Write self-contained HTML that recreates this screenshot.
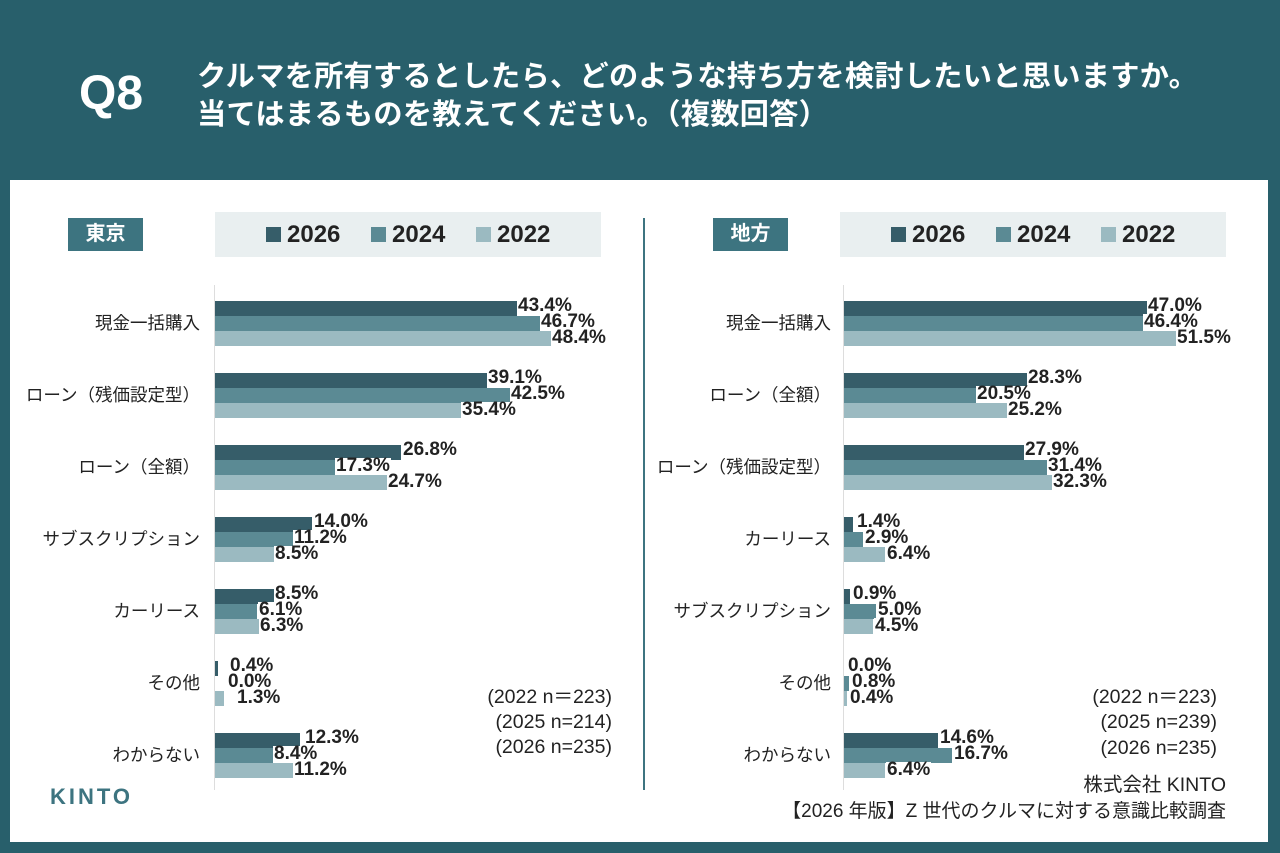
<!DOCTYPE html>
<html><head><meta charset="utf-8"><style>
*{margin:0;padding:0;box-sizing:border-box}
body{width:1280px;height:853px;background:#285f6b;position:relative;overflow:hidden;font-family:"Liberation Sans","Noto Sans CJK JP",sans-serif;color:#222}
.a{position:absolute;white-space:nowrap}
.panel{position:absolute;left:10px;top:180px;width:1258px;height:662px;background:#fff}
.q{left:79px;top:66px;font-size:48px;font-weight:bold;color:#fff}
.t{left:197px;font-size:29.2px;font-weight:bold;color:#fff;letter-spacing:0.3px}
.tag{background:#3d7480;color:#fff;font-weight:bold;font-size:20px;text-align:center;line-height:33px;height:33px;width:75px}
.leg{background:#e9eff0;height:45px;width:386px;top:212px}
.sq{position:absolute;width:15px;height:15px;top:227px}
.lt{position:absolute;top:221px;font-size:24px;font-weight:bold;line-height:28px}
.b{position:absolute;height:15px}
.c1{background:#365d69}.c2{background:#5b8a94}.c3{background:#9bbac1}
.v{position:absolute;font-size:19px;font-weight:bold;line-height:16px;background:#fff;padding:0 1px;white-space:nowrap}
.cat{position:absolute;font-size:17.5px;line-height:22px;text-align:right;width:200px;white-space:nowrap}
.n{position:absolute;font-size:19.5px;line-height:22px;text-align:right;width:200px;white-space:nowrap}
.ax{position:absolute;width:1px;background:#ddd;top:285px;height:505px}
</style></head><body>
<div class="a q">Q8</div>
<div class="a t" style="top:53px">クルマを所有するとしたら、どのような持ち方を検討したいと思いますか。</div>
<div class="a t" style="top:91px">当てはまるものを教えてください。（複数回答）</div>
<div class="panel"></div>
<div class="a" style="left:643px;top:218px;width:2px;height:572px;background:#3d7480"></div>

<div class="a tag" style="left:68px;top:218px">東京</div>
<div class="a leg" style="left:215px"></div>
<div class="sq c1" style="left:266px"></div><div class="lt" style="left:287px">2026</div>
<div class="sq c2" style="left:371px"></div><div class="lt" style="left:392px">2024</div>
<div class="sq c3" style="left:476px"></div><div class="lt" style="left:497px">2022</div>

<div class="a tag" style="left:713px;top:218px">地方</div>
<div class="a leg" style="left:840px"></div>
<div class="sq c1" style="left:891px"></div><div class="lt" style="left:912px">2026</div>
<div class="sq c2" style="left:996px"></div><div class="lt" style="left:1017px">2024</div>
<div class="sq c3" style="left:1101px"></div><div class="lt" style="left:1122px">2022</div>

<div class="ax" style="left:214px"></div>
<div class="ax" style="left:843px"></div>

<!-- LEFT -->
<div class="cat" style="left:0;top:312px">現金一括購入</div>
<div class="b c1" style="left:215px;top:301px;width:302px"></div><div class="v" style="left:517px;top:298px">43.4%</div>
<div class="b c2" style="left:215px;top:316px;width:325px"></div><div class="v" style="left:540px;top:314px">46.7%</div>
<div class="b c3" style="left:215px;top:331px;width:336px"></div><div class="v" style="left:551px;top:330px">48.4%</div>

<div class="cat" style="left:0;top:384px">ローン（残価設定型）</div>
<div class="b c1" style="left:215px;top:373px;width:272px"></div><div class="v" style="left:487px;top:370px">39.1%</div>
<div class="b c2" style="left:215px;top:388px;width:295px"></div><div class="v" style="left:510px;top:386px">42.5%</div>
<div class="b c3" style="left:215px;top:403px;width:246px"></div><div class="v" style="left:461px;top:402px">35.4%</div>

<div class="cat" style="left:0;top:456px">ローン（全額）</div>
<div class="b c1" style="left:215px;top:445px;width:186px"></div><div class="v" style="left:402px;top:442px">26.8%</div>
<div class="b c2" style="left:215px;top:460px;width:120px"></div><div class="v" style="left:335px;top:458px">17.3%</div>
<div class="b c3" style="left:215px;top:475px;width:172px"></div><div class="v" style="left:387px;top:474px">24.7%</div>

<div class="cat" style="left:0;top:528px">サブスクリプション</div>
<div class="b c1" style="left:215px;top:517px;width:97px"></div><div class="v" style="left:313px;top:514px">14.0%</div>
<div class="b c2" style="left:215px;top:532px;width:78px"></div><div class="v" style="left:293px;top:530px">11.2%</div>
<div class="b c3" style="left:215px;top:547px;width:59px"></div><div class="v" style="left:274px;top:546px">8.5%</div>

<div class="cat" style="left:0;top:600px">カーリース</div>
<div class="b c1" style="left:215px;top:589px;width:59px"></div><div class="v" style="left:274px;top:586px">8.5%</div>
<div class="b c2" style="left:215px;top:604px;width:42px"></div><div class="v" style="left:258px;top:602px">6.1%</div>
<div class="b c3" style="left:215px;top:619px;width:44px"></div><div class="v" style="left:259px;top:618px">6.3%</div>

<div class="cat" style="left:0;top:672px">その他</div>
<div class="b c1" style="left:215px;top:661px;width:3px"></div><div class="v" style="left:229px;top:658px">0.4%</div>
<div class="v" style="left:227px;top:674px">0.0%</div>
<div class="b c3" style="left:215px;top:691px;width:9px"></div><div class="v" style="left:236px;top:690px">1.3%</div>

<div class="cat" style="left:0;top:744px">わからない</div>
<div class="b c1" style="left:215px;top:733px;width:85px"></div><div class="v" style="left:304px;top:730px">12.3%</div>
<div class="b c2" style="left:215px;top:748px;width:58px"></div><div class="v" style="left:273px;top:746px">8.4%</div>
<div class="b c3" style="left:215px;top:763px;width:78px"></div><div class="v" style="left:293px;top:762px">11.2%</div>

<div class="n" style="left:412px;top:686px">(2022 n＝223)</div>
<div class="n" style="left:412px;top:711px">(2025 n=214)</div>
<div class="n" style="left:412px;top:736px">(2026 n=235)</div>
<div class="a" style="left:50px;top:784px;font-size:22px;font-weight:bold;color:#3d7480;letter-spacing:3px">KINTO</div>

<!-- RIGHT -->
<div class="cat" style="left:631px;top:312px">現金一括購入</div>
<div class="b c1" style="left:844px;top:301px;width:303px"></div><div class="v" style="left:1147px;top:298px">47.0%</div>
<div class="b c2" style="left:844px;top:316px;width:299px"></div><div class="v" style="left:1143px;top:314px">46.4%</div>
<div class="b c3" style="left:844px;top:331px;width:332px"></div><div class="v" style="left:1176px;top:330px">51.5%</div>

<div class="cat" style="left:631px;top:384px">ローン（全額）</div>
<div class="b c1" style="left:844px;top:373px;width:183px"></div><div class="v" style="left:1027px;top:370px">28.3%</div>
<div class="b c2" style="left:844px;top:388px;width:132px"></div><div class="v" style="left:976px;top:386px">20.5%</div>
<div class="b c3" style="left:844px;top:403px;width:163px"></div><div class="v" style="left:1007px;top:402px">25.2%</div>

<div class="cat" style="left:631px;top:456px">ローン（残価設定型）</div>
<div class="b c1" style="left:844px;top:445px;width:180px"></div><div class="v" style="left:1024px;top:442px">27.9%</div>
<div class="b c2" style="left:844px;top:460px;width:203px"></div><div class="v" style="left:1047px;top:458px">31.4%</div>
<div class="b c3" style="left:844px;top:475px;width:208px"></div><div class="v" style="left:1052px;top:474px">32.3%</div>

<div class="cat" style="left:631px;top:528px">カーリース</div>
<div class="b c1" style="left:844px;top:517px;width:9px"></div><div class="v" style="left:856px;top:514px">1.4%</div>
<div class="b c2" style="left:844px;top:532px;width:19px"></div><div class="v" style="left:864px;top:530px">2.9%</div>
<div class="b c3" style="left:844px;top:547px;width:41px"></div><div class="v" style="left:886px;top:546px">6.4%</div>

<div class="cat" style="left:631px;top:600px">サブスクリプション</div>
<div class="b c1" style="left:844px;top:589px;width:6px"></div><div class="v" style="left:852px;top:586px">0.9%</div>
<div class="b c2" style="left:844px;top:604px;width:32px"></div><div class="v" style="left:877px;top:602px">5.0%</div>
<div class="b c3" style="left:844px;top:619px;width:29px"></div><div class="v" style="left:874px;top:618px">4.5%</div>

<div class="cat" style="left:631px;top:672px">その他</div>
<div class="v" style="left:847px;top:658px">0.0%</div>
<div class="b c2" style="left:844px;top:676px;width:5px"></div><div class="v" style="left:851px;top:674px">0.8%</div>
<div class="b c3" style="left:844px;top:691px;width:3px"></div><div class="v" style="left:849px;top:690px">0.4%</div>

<div class="cat" style="left:631px;top:744px">わからない</div>
<div class="b c1" style="left:844px;top:733px;width:94px"></div><div class="v" style="left:939px;top:730px">14.6%</div>
<div class="b c2" style="left:844px;top:748px;width:108px"></div><div class="v" style="left:953px;top:746px">16.7%</div>
<div class="b c3" style="left:844px;top:763px;width:41px"></div><div class="v" style="left:886px;top:762px">6.4%</div>

<div class="n" style="left:1017px;top:686px">(2022 n＝223)</div>
<div class="n" style="left:1017px;top:711px">(2025 n=239)</div>
<div class="n" style="left:1017px;top:737px">(2026 n=235)</div>
<div class="n" style="left:1026px;top:774px">株式会社 KINTO</div>
<div class="n" style="left:726px;top:801px;width:500px;font-size:19px">【2026 年版】Z 世代のクルマに対する意識比較調査</div>
</body></html>
